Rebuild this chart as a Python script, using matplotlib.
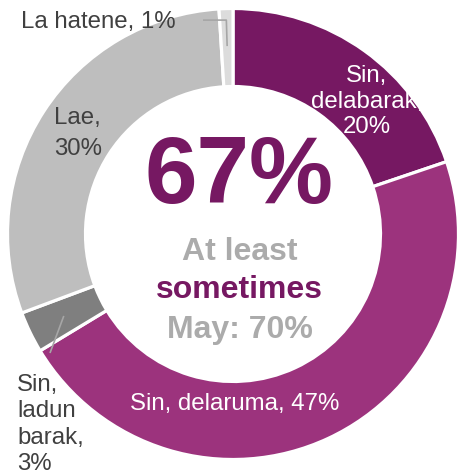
import numpy as np
import matplotlib.pyplot as plt

# slices, clockwise from the top
categories = ["Sin, delabarak", "Sin, delaruma", "Sin, ladun barak", "Lae", "La hatene"]
shares = [20, 47, 3, 30, 1]
label_lines = [
    ["Sin,", "delabarak,", "20%"],
    ["Sin, delaruma, 47%"],
    ["Sin,", "ladun", "barak,", "3%"],
    ["Lae,", "30%"],
    ["La hatene, 1%"],
]
slice_colors = ["#761862", "#9c337d", "#7f7f7f", "#bebebe", "#dcdcdc"]

headline = "67%"
sub_lines = ["At least", "sometimes", "May: 70%"]
sub_colors = ["#ababab", "#761862", "#ababab"]

W, H = 458, 474
plt.rcParams['font.family'] = ['Liberation Sans', 'DejaVu Sans']

fig = plt.figure(figsize=(W / 100, H / 100), dpi=100)
ax = fig.add_axes([0, 0, 1, 1])

def Y(y):
    # picture rows (top down) to axes units (bottom up)
    return H - y

cx, cy = 233, Y(234)
R = 225.5
ring = 78

wedges, _ = ax.pie(shares, colors=slice_colors, startangle=90, counterclock=False,
                   radius=R, center=(cx, cy),
                   wedgeprops=dict(width=ring, edgecolor='white', linewidth=2.3))

ax.set_xlim(0, W)
ax.set_ylim(0, H)
ax.set_aspect('equal')
ax.axis('off')

label_col = "#404040"
fs = 17.3
# (x, first baseline, line step, align, colour)
label_spots = [
    (367, 82, 25.5, 'center', 'white'),
    (235, 410, 26, 'center', 'white'),
    (17, 391, 26.3, 'left', label_col),
    (54, 124, 31, 'left', label_col),
    (21, 28, 26, 'left', label_col),
]
for lines, (x, y0, step, ha, col) in zip(label_lines, label_spots):
    for k, line in enumerate(lines):
        ax.text(x, Y(y0 + k * step), line, ha=ha, va='baseline',
                fontsize=fs, color=col)

def mid_point(w, r):
    a = np.deg2rad((w.theta1 + w.theta2) / 2)
    return cx + r * np.cos(a), cy + r * np.sin(a)

lead = "#a6a6a6"
# La hatene leader: from the ring out, then a short horizontal
x0, y0 = mid_point(wedges[4], 188)
x1, y1 = mid_point(wedges[4], 214)
ax.plot([x0, x1, 203], [y0, y1, y1], color=lead, lw=1.2, solid_capstyle='butt')
# Sin, ladun barak leader
x0, y0 = mid_point(wedges[2], 188)
ax.plot([x0, 50], [y0, Y(353)], color=lead, lw=1.2, solid_capstyle='butt')

ax.text(239.5, Y(203), headline, ha='center', va='baseline', fontsize=68,
        fontweight='bold', color=slice_colors[0])
for line, col, yb in zip(sub_lines, sub_colors, [260, 298, 338]):
    ax.text(239.5, Y(yb), line, ha='center', va='baseline', fontsize=23,
            fontweight='bold', color=col)

fig.savefig("out.png", dpi=100)
